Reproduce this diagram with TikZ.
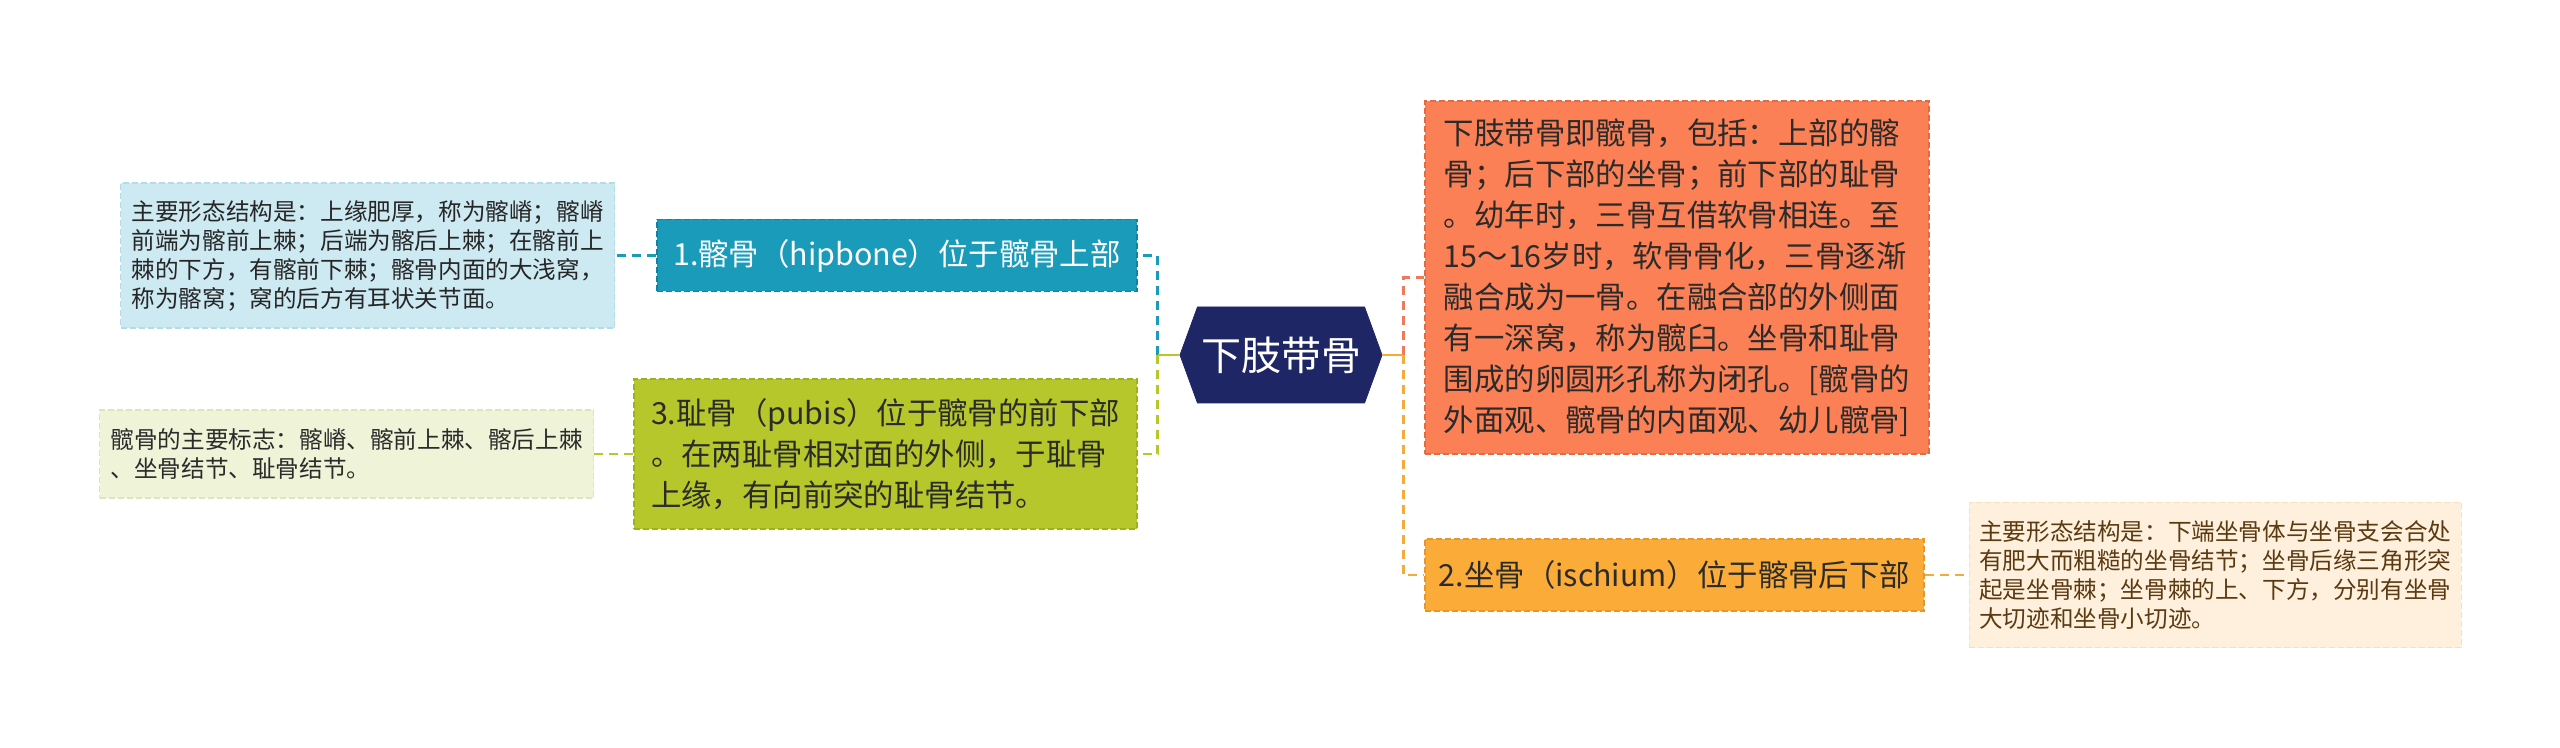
\documentclass[tikz,border=0pt]{standalone}
\usepackage{fontspec}
\setmainfont{Noto Sans CJK SC}
\usetikzlibrary{positioning,shapes.symbols}

\definecolor{rootfill}{HTML}{1F2666}
\definecolor{iliumfill}{HTML}{1B9BBA}
\definecolor{iliumedge}{HTML}{12829E}
\definecolor{iliumnotefill}{HTML}{CDE9F2}
\definecolor{iliumnoteedge}{HTML}{B4DBE8}
\definecolor{pubisfill}{HTML}{B5C72B}
\definecolor{pubisedge}{HTML}{9DB01E}
\definecolor{pubisnotefill}{HTML}{EFF3D8}
\definecolor{pubisnoteedge}{HTML}{DDE5BC}
\definecolor{summaryfill}{HTML}{FC8055}
\definecolor{summaryedge}{HTML}{E66A40}
\definecolor{ischiumfill}{HTML}{FBAB38}
\definecolor{ischiumedge}{HTML}{E6962A}
\definecolor{ischiumnotefill}{HTML}{FEF0DC}
\definecolor{ischiumnoteedge}{HTML}{F5E0C0}
\definecolor{darktext}{HTML}{2B2B2B}
\definecolor{browntext}{HTML}{5B3A12}
\definecolor{summaryline}{HTML}{F07A58}
\definecolor{ischiumline}{HTML}{F5AA3C}

\begin{document}
\begin{tikzpicture}[
    x=1pt, y=1pt,
    box/.style={align=left, inner sep=0pt, line width=0.6pt,
                dash pattern=on 3pt off 1.5pt},
    main/.style={box, text=darktext, font=\fontsize{15.2pt}{20.5pt}\selectfont},
    note/.style={box, text=darktext, font=\fontsize{11.8pt}{14.5pt}\selectfont,
                 minimum width=247pt},
    root/.style={shape=signal, signal to=west and east, signal pointer angle=140,
                 fill=rootfill, draw=rootfill, text=white, inner sep=0pt,
                 font=\fontsize{20pt}{24pt}\selectfont,
                 minimum width=101pt, minimum height=48pt},
    solidlink/.style={line width=1.3pt},
    dashlink/.style={line width=1.3pt, dash pattern=on 4.5pt off 3pt}
  ]
    \fill[white] (0,0) rectangle (1280,-374);
    \useasboundingbox (0,0) rectangle (1280,-374);

    \node[root] (root) at (640.5,-177.5) {下肢带骨};

    \node[main, fill=iliumfill, draw=iliumedge, text=white,
          minimum width=240pt, minimum height=36pt,
          left=21pt of root.west, yshift=49.75pt] (ilium)
      {1.髂骨（hipbone）位于髋骨上部};
    \node[note, fill=iliumnotefill, draw=iliumnoteedge, text=black!85,
          minimum height=72.5pt, left=20.5pt of ilium] (iliumnote)
      {主要形态结构是：上缘肥厚，称为髂嵴；髂嵴\\
       前端为髂前上棘；后端为髂后上棘；在髂前上\\
       棘的下方，有髂前下棘；髂骨内面的大浅窝，\\
       称为髂窝；窝的后方有耳状关节面。};

    \node[main, fill=pubisfill, draw=pubisedge,
          minimum width=251.5pt, minimum height=75pt,
          left=21pt of root.west, yshift=-49.5pt] (pubis)
      {3.耻骨（pubis）位于髋骨的前下部\\
       。在两耻骨相对面的外侧，于耻骨\\
       上缘，有向前突的耻骨结节。};
    \node[note, fill=pubisnotefill, draw=pubisnoteedge,
          minimum height=44pt, left=19.5pt of pubis] (pubisnote)
      {髋骨的主要标志：髂嵴、髂前上棘、髂后上棘\\
       、坐骨结节、耻骨结节。};

    \node[main, fill=summaryfill, draw=summaryedge,
          minimum width=252pt, minimum height=176.5pt,
          right=21pt of root.east, yshift=38.75pt] (summary)
      {下肢带骨即髋骨，包括：上部的髂\\
       骨；后下部的坐骨；前下部的耻骨\\
       。幼年时，三骨互借软骨相连。至\\
       15～16岁时，软骨骨化，三骨逐渐\\
       融合成为一骨。在融合部的外侧面\\
       有一深窝，称为髋臼。坐骨和耻骨\\
       围成的卵圆形孔称为闭孔。[髋骨的\\
       外面观、髋骨的内面观、幼儿髋骨]};

    \node[main, fill=ischiumfill, draw=ischiumedge,
          minimum width=249.5pt, minimum height=36pt,
          right=21pt of root.east, yshift=-110pt] (ischium)
      {2.坐骨（ischium）位于髂骨后下部};
    \node[note, fill=ischiumnotefill, draw=ischiumnoteedge, text=browntext,
          minimum width=246pt, minimum height=72.5pt, right=22pt of ischium] (ischiumnote)
      {主要形态结构是：下端坐骨体与坐骨支会合处\\
       有肥大而粗糙的坐骨结节；坐骨后缘三角形突\\
       起是坐骨棘；坐骨棘的上、下方，分别有坐骨\\
       大切迹和坐骨小切迹。};

    \coordinate[left=11pt of root.west] (lj);
    \coordinate[right=10.5pt of root.east] (rj);

    \draw[dashlink, iliumfill] (lj) |- (ilium.east);
    \draw[dashlink, pubisfill] (lj) |- (pubis.east);
    \draw[solidlink, pubisfill] (root.west) -- (lj);
    \draw[dashlink, summaryline] (rj) |- (summary.west);
    \draw[dashlink, ischiumline] (rj) |- (ischium.west);
    \draw[solidlink, ischiumline] (root.east) -- (rj);

    \draw[dashlink, iliumfill] (ilium.west) -- (iliumnote.east);
    \draw[dashlink, pubisfill] (pubis.west) -- (pubisnote.east);
    \draw[dashlink, ischiumline] (ischium.east) -- (ischiumnote.west);
  \end{tikzpicture}
\end{document}
